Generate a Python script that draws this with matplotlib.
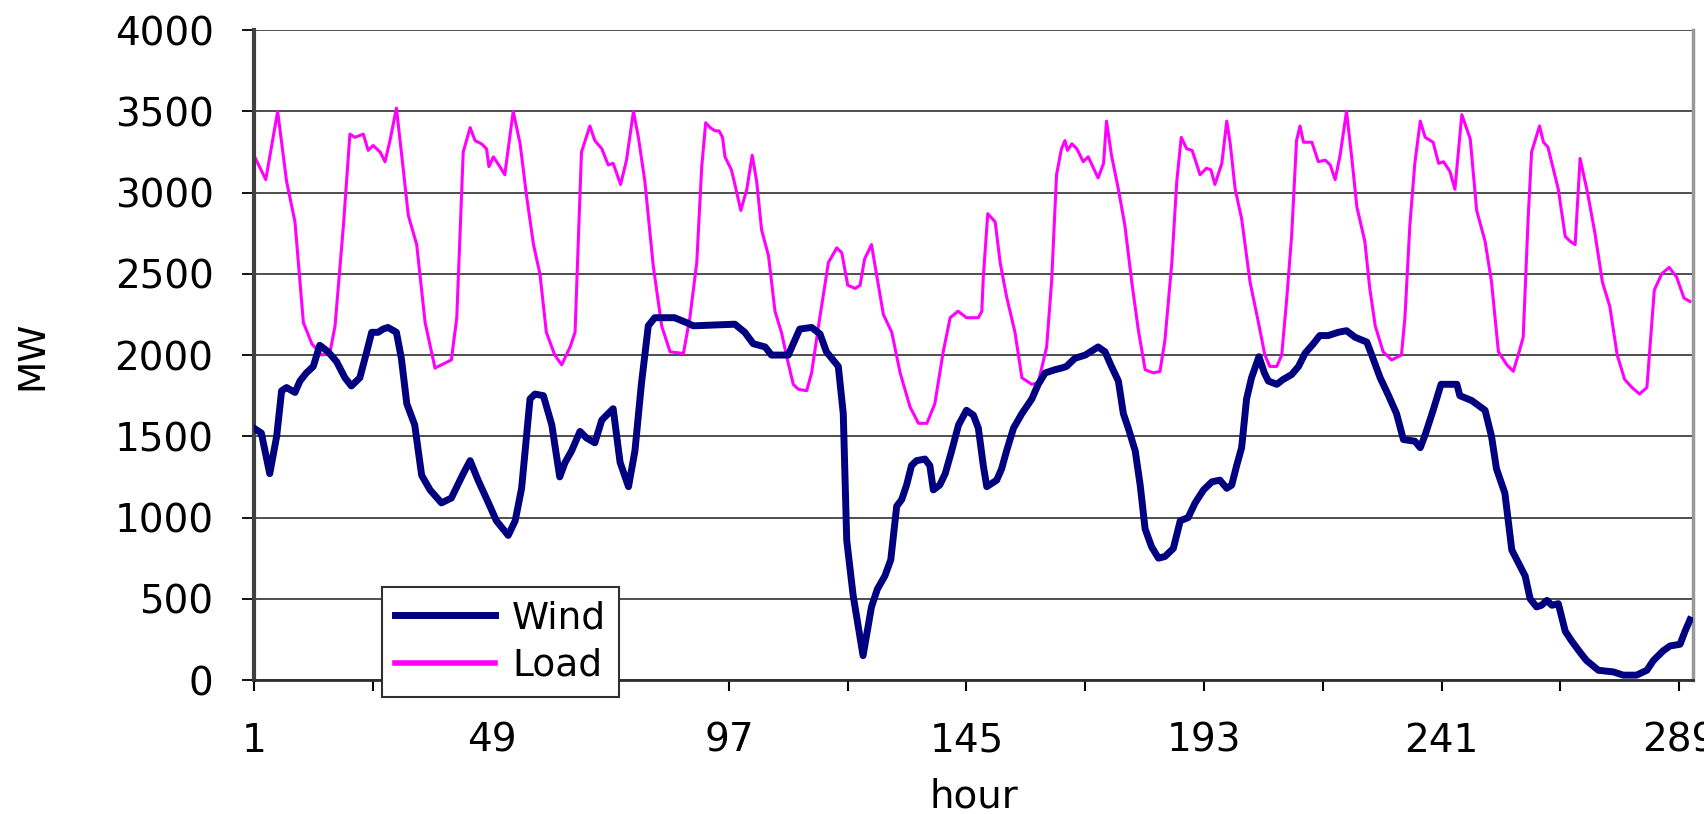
import matplotlib
matplotlib.use('Agg')
import matplotlib.pyplot as plt
from matplotlib.ticker import FixedLocator

plt.rcParams['font.family'] = ['DejaVu Sans']

# values: hour, MW
wind_hours = [1.0, 2.5, 4.2, 5.6, 6.6, 7.6, 9.3, 10.3, 11.6, 13.0, 14.3, 16.0, 17.7, 19.4, 20.7,
              22.4, 23.8, 24.8, 26.1, 27.1, 28.1, 29.8, 30.8, 31.9, 33.5, 34.9, 36.6, 38.9, 40.9,
              43.3, 44.7, 46.3, 48.4, 50.0, 52.4, 53.8, 55.1, 56.8, 57.8, 59.5, 61.2, 62.8, 63.9,
              65.2, 66.9, 68.2, 69.9, 71.3, 73.6, 75.0, 76.7, 78.0, 79.3, 80.7, 82.0, 86.0, 88.4,
              89.8, 98.2, 100.2, 101.9, 104.3, 105.6, 109.0, 110.0, 111.3, 113.7, 115.4, 116.7,
              119.1, 120.1, 120.8, 122.1, 124.1, 125.8, 127.0, 128.5, 129.7, 130.9, 131.9, 132.9,
              133.9, 134.9, 136.6, 137.6, 138.3, 139.6, 140.7, 142.0, 143.4, 145.0, 146.4, 147.4,
              148.4, 149.1, 151.1, 152.1, 153.1, 154.5, 156.2, 158.2, 159.5, 160.9, 162.9, 164.2,
              165.2, 166.9, 169.0, 171.6, 173.0, 174.3, 175.7, 176.7, 177.7, 179.1, 180.1, 181.1,
              182.4, 183.8, 185.1, 186.8, 188.2, 189.8, 191.2, 192.9, 194.6, 196.2, 197.6, 198.6,
              199.6, 200.6, 201.6, 202.6, 204.1, 205.2, 206.0, 207.7, 209.0, 210.7, 212.1, 213.4,
              215.1, 216.4, 218.1, 220.1, 221.8, 223.5, 225.9, 226.9, 228.6, 230.3, 231.9, 233.3,
              235.6, 236.7, 237.7, 239.3, 240.9, 244.1, 244.7, 247.1, 249.8, 251.1, 252.1, 253.8,
              255.2, 256.9, 257.9, 258.9, 260.2, 261.2, 262.3, 263.3, 264.6, 266.0, 267.3, 269.0,
              270.3, 272.7, 275.7, 277.7, 280.4, 282.5, 283.8, 285.8, 287.2, 289.2, 290.2, 291.2]
wind_mw = [1550, 1520, 1270, 1500, 1780, 1800, 1770, 1840, 1890, 1930, 2060, 2020, 1960, 1860, 1810,
           1860, 2020, 2140, 2140, 2160, 2170, 2140, 1980, 1700, 1570, 1260, 1170, 1090, 1120,
           1270, 1350, 1230, 1090, 980, 890, 980, 1180, 1730, 1760, 1750, 1570, 1250, 1340,
           1410, 1530, 1490, 1460, 1600, 1670, 1340, 1190, 1410, 1820, 2180, 2230, 2230, 2200,
           2180, 2190, 2140, 2070, 2050, 2000, 2000, 2070, 2160, 2170, 2130, 2020,
           1930, 1640, 860, 520, 150, 450, 560, 640, 740, 1070, 1110, 1200,
           1320, 1350, 1360, 1320, 1170, 1200, 1270, 1410, 1570, 1660, 1630, 1550,
           1320, 1190, 1230, 1300, 1410, 1550, 1640, 1730, 1820, 1890, 1910, 1920,
           1930, 1980, 2000, 2050, 2020, 1930, 1840, 1640, 1550, 1410, 1200, 930,
           820, 750, 760, 810, 980, 1000, 1090, 1170, 1220, 1230, 1180, 1200,
           1320, 1430, 1730, 1860, 1990, 1890, 1840, 1820, 1850, 1880, 1930, 2010,
           2070, 2120, 2120, 2140, 2150, 2110, 2080, 2000, 1860, 1750, 1640, 1480,
           1470, 1430, 1510, 1660, 1820, 1820, 1750, 1720, 1660, 1500, 1300, 1150,
           800, 700, 640, 500, 450, 460, 490, 460, 470, 300, 240, 170,
           120, 60, 50, 30, 30, 60, 120, 180, 210, 220, 300, 370]

load_hours = [1.0, 3.4, 5.8, 7.6, 9.3, 11.0, 12.7, 14.7, 16.4, 17.4, 19.1, 20.4, 21.4, 23.1, 24.1,
              25.1, 26.5, 27.5, 28.5, 29.8, 31.2, 32.2, 33.9, 35.6, 37.6, 39.6, 40.9, 42.0, 43.3,
              44.7, 45.7, 47.0, 48.0, 48.5, 49.4, 50.7, 51.7, 53.4, 54.8, 56.1, 57.5, 58.8, 60.1,
              61.8, 63.2, 64.9, 65.9, 67.2, 68.9, 69.9, 71.3, 72.6, 73.6, 75.1, 76.3, 77.7, 78.7,
              80.0, 81.7, 83.4, 85.1, 87.8, 89.1, 90.5, 91.5, 92.3, 93.2, 94.2, 95.0, 95.7, 96.2,
              97.5, 98.2, 99.4, 100.6, 101.7, 102.6, 103.6, 105.0, 106.3, 107.6, 108.9, 110.0,
              111.0, 112.7, 113.7, 115.1, 117.1, 118.8, 119.8, 121.0, 122.5, 123.5, 124.4, 125.8,
              126.8, 128.2, 129.9, 131.6, 133.6, 135.3, 137.0, 138.6, 140.3, 141.7, 143.3, 145.0,
              147.4, 148.1, 148.4, 149.3, 150.8, 151.8, 153.1, 154.8, 156.2, 158.2, 159.5, 161.2,
              162.2, 163.2, 164.2, 164.9, 165.4, 166.3, 167.3, 168.6, 169.6, 171.6, 172.7, 173.3,
              174.3, 175.7, 177.0, 178.4, 179.7, 181.1, 182.8, 184.1, 185.1, 186.5, 187.5, 188.4,
              189.5, 190.6, 192.2, 193.5, 194.4, 195.2, 196.6, 197.6, 198.3, 199.3, 200.6, 202.3,
              204.0, 205.3, 206.3, 207.7, 208.7, 209.7, 210.7, 211.7, 212.4, 213.1, 214.8, 216.1,
              217.5, 218.5, 219.5, 220.5, 221.8, 222.8, 223.9, 225.5, 226.5, 227.6, 229.2, 230.9,
              232.9, 233.6, 234.6, 235.6, 236.7, 237.7, 239.3, 240.4, 241.4, 242.7, 243.7, 245.1,
              246.8, 248.1, 249.8, 251.1, 252.5, 254.2, 255.5, 256.5, 257.5, 258.5, 259.2, 260.8,
              261.6, 262.5, 264.6, 266.0, 267.0, 268.0, 269.0, 270.5, 272.0, 273.5, 275.0, 276.5,
              278.0, 279.5, 281.0, 282.5, 284.0, 285.5, 287.0, 288.5, 290.0, 291.2]
load_mw = [3230, 3080, 3500, 3070, 2820, 2200, 2070, 2000, 2020, 2180, 2800, 3360, 3340, 3360, 3260,
           3290, 3250, 3190, 3320, 3520, 3140, 2860, 2680, 2200, 1920, 1950, 1970, 2230, 3250,
           3400, 3320, 3300, 3270, 3160, 3220, 3160, 3110, 3500, 3300, 2980, 2680, 2500, 2140,
           2000, 1940, 2050, 2140, 3250, 3410, 3320, 3270, 3170, 3180, 3050, 3200, 3500, 3340,
           3070, 2550, 2180, 2020, 2010, 2230, 2570, 3160, 3430, 3400, 3380, 3380, 3340, 3220,
           3140, 3050, 2890, 3020, 3230, 3070, 2770, 2610, 2270, 2140, 1960, 1820,
           1790, 1780, 1890, 2180, 2570, 2660, 2630, 2430, 2410, 2430, 2590, 2680,
           2500, 2250, 2140, 1890, 1680, 1580, 1580, 1700, 2020, 2230, 2270, 2230,
           2230, 2270, 2480, 2870, 2820, 2570, 2360, 2140, 1860, 1820, 1830, 2050,
           2450, 3110, 3270, 3320, 3260, 3300, 3270, 3190, 3220, 3090, 3180, 3440,
           3230, 3020, 2800, 2450, 2160, 1910, 1890, 1900, 2090, 2570, 3070, 3340,
           3270, 3260, 3110, 3150, 3140, 3050, 3180, 3440, 3300, 3020, 2840, 2450,
           2200, 2000, 1930, 1930, 2000, 2340, 2730, 3320, 3410, 3310, 3310, 3190,
           3200, 3170, 3080, 3230, 3500, 3230, 2910, 2700, 2410, 2180, 2020, 1970,
           2000, 2230, 2800, 3180, 3440, 3340, 3310, 3180, 3190, 3130, 3020, 3480,
           3330, 2890, 2700, 2450, 2020, 1940, 1900, 2000, 2110, 2840, 3250, 3410,
           3310, 3280, 3020, 2730, 2700, 2680, 3210, 3000, 2750, 2450, 2300, 2000,
           1850, 1800, 1760, 1800, 2400, 2500, 2540, 2480, 2350, 2330]

x_labels = [1, 49, 97, 145, 193, 241, 289]
x_minor = [25, 73, 121, 169, 217, 265]
y_ticks = [0, 500, 1000, 1500, 2000, 2500, 3000, 3500, 4000]

fig = plt.figure(figsize=(17.04, 8.14), dpi=100)
ax = fig.add_axes([0.149, 0.1646, 0.8445, 0.7984])

ax.plot(wind_hours, wind_mw, color='#000080', lw=5, label='Wind', solid_joinstyle='round', zorder=3)
ax.plot(load_hours, load_mw, color='#ff00ff', lw=2.2, label='Load', zorder=2)

ax.set_xlim(1, 291.8)
ax.set_ylim(0, 4000)
ax.set_yticks(y_ticks)
ax.set_xticks(x_labels)
ax.xaxis.set_minor_locator(FixedLocator(x_minor))
ax.yaxis.grid(True, color='#404040', lw=1.3)
ax.set_axisbelow(True)

ax.tick_params(axis='both', labelsize=28, colors='black')
ax.tick_params(axis='x', which='both', length=8, width=1.5, direction='out', pad=22)
ax.tick_params(axis='y', length=9, width=1.3, pad=20)

ax.spines['top'].set_visible(False)
ax.spines['left'].set_linewidth(3)
ax.spines['left'].set_color('#404040')
ax.spines['bottom'].set_linewidth(2)
ax.spines['bottom'].set_color('#303030')
ax.spines['right'].set_linewidth(2.5)
ax.spines['right'].set_color('#999999')

ax.set_xlabel('hour', fontsize=28, va='center')
ax.xaxis.set_label_coords(0.5, -0.18)
ax.set_ylabel('MW', fontsize=27, va='center')
ax.yaxis.set_label_coords(-0.154, 0.5)

leg = ax.legend(loc='lower left', bbox_to_anchor=(0.089, -0.026), borderaxespad=0,
                fontsize=27, handlelength=2.67, handletextpad=0.45, borderpad=0.35,
                labelspacing=0.3, frameon=True, fancybox=False, framealpha=1)
leg.get_frame().set_edgecolor('#303030')
leg.get_frame().set_linewidth(1.5)
leg.set_zorder(5)
for line in leg.get_lines():
    line.set_linewidth(5 if line.get_label() == 'Wind' else 4)

fig.savefig('out.png', dpi=100)
